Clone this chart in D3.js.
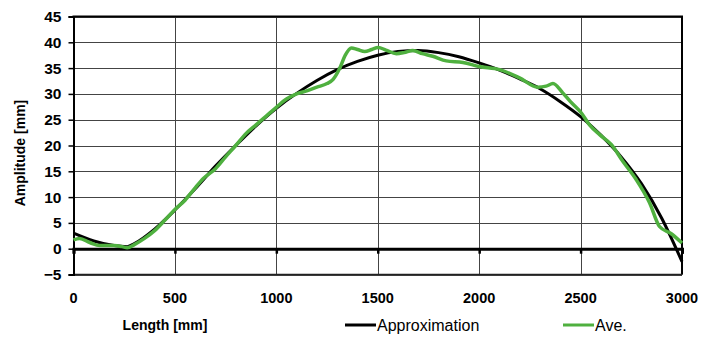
<!DOCTYPE html>
<html><head><meta charset="utf-8">
<script src="https://cdn.jsdelivr.net/npm/d3@7/dist/d3.min.js"></script>
<style>body{margin:0;background:#fff}svg{display:block}</style>
</head><body>
<svg id="c" width="707" height="344"></svg>
<script>
const xTicks = [0,500,1000,1500,2000,2500,3000];
const yTicks = [-5,0,5,10,15,20,25,30,35,40,45];
const seriesNames = ["Approximation","Ave."];
const approxX = [0,100,200,265,300,400,500,600,700,800,900,1000,1100,1200,1300,1400,1500,1600,1700,1800,1900,2000,2100,2200,2300,2400,2500,2600,2700,2800,2900,3000];
const approxY = [3.0,1.5,0.6,0.4,1.0,3.8,7.5,11.6,16.0,20.0,23.8,27.2,30.1,32.6,34.7,36.3,37.5,38.2,38.4,38.0,37.2,36.0,34.6,32.9,31.0,28.5,25.6,22.0,17.8,12.6,5.9,-2.5];
const aveX = [0,30,80,130,200,240,265,300,350,400,450,500,550,600,640,700,750,800,850,900,950,1000,1050,1100,1150,1200,1250,1280,1313,1340,1370,1400,1436,1470,1502,1540,1592,1630,1673,1720,1771,1838,1920,2000,2101,2199,2289,2330,2364,2412,2450,2504,2544,2594,2651,2709,2774,2840,2889,2947,3000];
const aveY = [1.7,2.0,1.2,0.6,0.6,0.4,0.2,0.8,2.0,3.5,5.5,7.6,9.4,11.8,13.6,15.5,17.8,20.0,22.3,24.0,25.7,27.4,29.0,30.0,30.6,31.3,32.0,32.8,35.0,37.5,38.9,38.6,38.2,38.6,39.0,38.5,37.8,38.0,38.4,37.8,37.3,36.4,36.1,35.3,34.7,33.1,31.3,31.5,32.0,30.2,28.5,26.3,24.0,22.1,20.2,16.9,13.4,8.9,4.3,2.9,1.1];

const svg = d3.select("#c");
const L=73.5, R=682, T=16.5, B=274.5;
const x = d3.scaleLinear().domain([0,3000]).range([L,R]);
const y = d3.scaleLinear().domain([-5,45]).range([B,T]);
const font = "'Liberation Sans', Arial, sans-serif";

// gridlines
svg.append("g").selectAll("line").data(yTicks).join("line")
  .attr("x1",L).attr("x2",R).attr("y1",d=>Math.round(y(d))+0.5).attr("y2",d=>Math.round(y(d))+0.5)
  .attr("stroke","#444").attr("stroke-width",1);
svg.append("g").selectAll("line").data(xTicks).join("line")
  .attr("y1",T).attr("y2",B).attr("x1",d=>Math.round(x(d))+0.5).attr("x2",d=>Math.round(x(d))+0.5)
  .attr("stroke","#444").attr("stroke-width",1);

// border
svg.append("line").attr("x1",L-1).attr("x2",R+1).attr("y1",T).attr("y2",T).attr("stroke","#000").attr("stroke-width",2);
svg.append("line").attr("x1",R).attr("x2",R).attr("y1",T).attr("y2",B).attr("stroke","#000").attr("stroke-width",2);
svg.append("line").attr("x1",L).attr("x2",R).attr("y1",B).attr("y2",B).attr("stroke","#222").attr("stroke-width",1.5);

// y axis
const yAxis = d3.axisLeft(y).tickValues(yTicks).tickSize(5).tickPadding(7).tickFormat(d=>d<0?"\u2212"+Math.abs(d):d);
const ya = svg.append("g").attr("transform",`translate(${L},0)`).call(yAxis);
ya.select(".domain").attr("stroke","#000").attr("stroke-width",2);
ya.selectAll(".tick line").attr("stroke","#000").attr("stroke-width",1.5);
ya.selectAll("text").attr("font-family",font).attr("font-size",15.5).attr("font-weight","bold").attr("fill","#000");

// zero axis
const xAxis = d3.axisBottom(x).tickValues(xTicks).tickSize(5).tickFormat("");
const xa = svg.append("g").attr("transform",`translate(0,${y(0)})`).call(xAxis);
xa.select(".domain").attr("stroke","#000").attr("stroke-width",3);
xa.selectAll(".tick line").attr("stroke","#000").attr("stroke-width",2.5);

// x tick labels at bottom
svg.append("g").selectAll("text").data(xTicks).join("text")
  .attr("x",d=>x(d)).attr("y",303).attr("text-anchor","middle")
  .attr("font-family",font).attr("font-size",14.5).attr("font-weight","bold").text(d=>d);

// lines
const line = d3.line().x(d=>x(d[0])).y(d=>y(d[1])).curve(d3.curveMonotoneX);
const approx = approxX.map((v,i)=>[v,approxY[i]]);
const ave = aveX.map((v,i)=>[v,aveY[i]]);
svg.append("path").datum(approx).attr("d",line).attr("fill","none").attr("stroke","#000").attr("stroke-width",3);
svg.append("path").datum(ave).attr("d",line).attr("fill","none").attr("stroke","#4fb03f").attr("stroke-width",3.5).attr("stroke-linejoin","round");

// axis titles
svg.append("text").attr("x",165).attr("y",330).attr("text-anchor","middle")
  .attr("font-family",font).attr("font-size",14).attr("font-weight","bold").text("Length [mm]");
svg.append("text").attr("transform","translate(25,153) rotate(-90)").attr("text-anchor","middle")
  .attr("font-family",font).attr("font-size",14).attr("font-weight","bold").text("Amplitude [mm]");

// legend
const leg = [{n:seriesNames[0],c:"#000",x:345},{n:seriesNames[1],c:"#4fb03f",x:563}];
leg.forEach(l=>{
  svg.append("line").attr("x1",l.x).attr("x2",l.x+31).attr("y1",325).attr("y2",325).attr("stroke",l.c).attr("stroke-width",3);
  svg.append("text").attr("x",l.x+32).attr("y",331).attr("font-family",font).attr("font-size",16).attr("fill","#000").text(l.n);
});
</script>
</body></html>
